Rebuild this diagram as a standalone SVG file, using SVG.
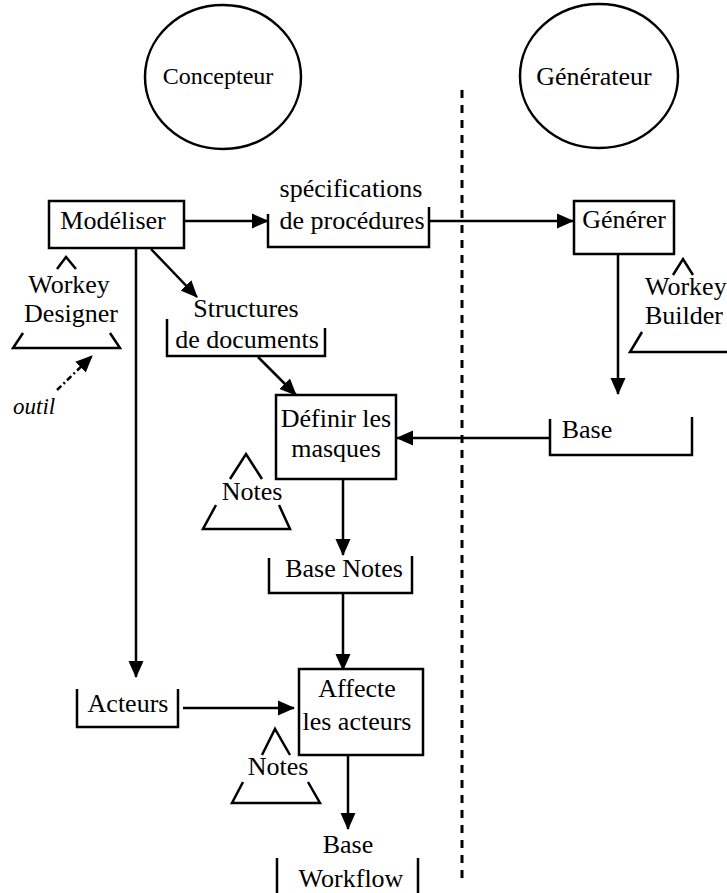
<svg xmlns="http://www.w3.org/2000/svg" width="727" height="893" viewBox="0 0 727 893">
<defs>
<marker id="ah" markerWidth="17" markerHeight="16" refX="16" refY="7.5" orient="auto" markerUnits="userSpaceOnUse" viewBox="0 0 17 15">
<path d="M0,0 L17,7.5 L0,15 z" fill="#000"/>
</marker>
<style>
text{font-family:'Liberation Serif','Times New Roman',Times,serif;font-size:26px;fill:#000;text-anchor:middle}
.s{fill:none;stroke:#000;stroke-width:2.5}
.b{fill:#fff;stroke:#000;stroke-width:2.5}
.l{fill:none;stroke:#000;stroke-width:2.5;marker-end:url(#ah)}
</style>
</defs>
<rect width="727" height="893" fill="#fff"/>
<g id="sep"><line x1="462" y1="90" x2="462" y2="880" stroke="#000" stroke-width="3" stroke-dasharray="8,7"/></g>
<g id="concepteur"><ellipse class="s" cx="223" cy="77" rx="78" ry="72"/><text x="218" y="84" style="font-size:24px">Concepteur</text></g>
<g id="generateur"><ellipse class="s" cx="599" cy="76" rx="79" ry="72"/><text x="594" y="85" style="font-size:26px">Générateur</text></g>
<g id="connectors">
<line class="l" x1="185" y1="221" x2="268" y2="221"/>
<line class="l" x1="429" y1="221" x2="573" y2="221"/>
<line class="l" x1="151" y1="249" x2="197" y2="297"/>
<line class="l" x1="136" y1="248" x2="136" y2="677"/>
<line class="l" x1="618" y1="254" x2="618" y2="394"/>
<line class="l" x1="550" y1="438" x2="397" y2="438"/>
<line class="l" x1="258" y1="357" x2="296" y2="395"/>
<line class="l" x1="343" y1="479" x2="343" y2="555"/>
<line class="l" x1="343" y1="593" x2="343" y2="670"/>
<line class="l" x1="183" y1="708" x2="294" y2="708"/>
<line class="l" x1="348" y1="755" x2="348" y2="829"/>
<line x1="57" y1="390" x2="92" y2="356" stroke="#000" stroke-width="2.5" stroke-dasharray="6,3,2,3" marker-end="url(#ah)"/>
</g>
<g id="modeliser"><rect class="b" x="49" y="201" width="135" height="47"/><text x="113" y="229">Modéliser</text></g>
<g id="workey-designer"><path class="s" d="M57,269 L66,257 L76,269 M23,333 L13,348 L120,348 L110,333"/><text x="69" y="293">Workey</text><text x="71" y="322">Designer</text></g>
<g id="outil"><text x="13" y="414" style="font-style:italic;font-size:23px;text-anchor:start">outil</text></g>
<g id="specifications"><path class="s" d="M268,214 L268,247 L429,247 L429,207"/><text x="351" y="197">spécifications</text><text x="352" y="229">de procédures</text></g>
<g id="generer"><rect class="b" x="574" y="201" width="100" height="53"/><text x="624" y="228">Générer</text></g>
<g id="workey-builder"><path class="s" d="M673,275 L683,259 L693,275 M642,332 L630,352 L727,352"/><text x="645" y="295" style="text-anchor:start">Workey</text><text x="645" y="324" style="text-anchor:start">Builder</text></g>
<g id="structures"><path class="s" d="M167,319 L167,356 L325,356 L325,328"/><text x="246" y="317">Structures</text><text x="247" y="348">de documents</text></g>
<g id="definir"><rect class="b" x="276" y="395" width="120" height="84"/><text x="336" y="427">Définir les</text><text x="336" y="457">masques</text></g>
<g id="base"><path class="s" d="M550,419 L550,455 L692,455 L692,417"/><text x="587" y="438">Base</text></g>
<g id="notes1"><path class="s" d="M230,479 L246,454 L262,479 M216,505 L203,529 L290,529 L279,505"/><text x="252" y="500">Notes</text></g>
<g id="base-notes"><path class="s" d="M269,558 L269,593 L412,593 L412,556"/><text x="344" y="577">Base Notes</text></g>
<g id="acteurs"><path class="s" d="M77,689 L77,727 L178,727 L178,689"/><text x="128" y="712">Acteurs</text></g>
<g id="affecte"><rect class="b" x="299" y="669" width="124" height="86"/><text x="357" y="697">Affecte</text><text x="357" y="730">les acteurs</text></g>
<g id="notes2"><path class="s" d="M262,755 L275,729 L290,755 M243,782 L232,803 L320,803 L308,782"/><text x="278" y="775">Notes</text></g>
<g id="base-workflow"><path class="s" d="M277,858 L277,893 M418,858 L418,893"/><text x="348" y="853">Base</text><text x="351" y="887">Workflow</text></g>
</svg>
